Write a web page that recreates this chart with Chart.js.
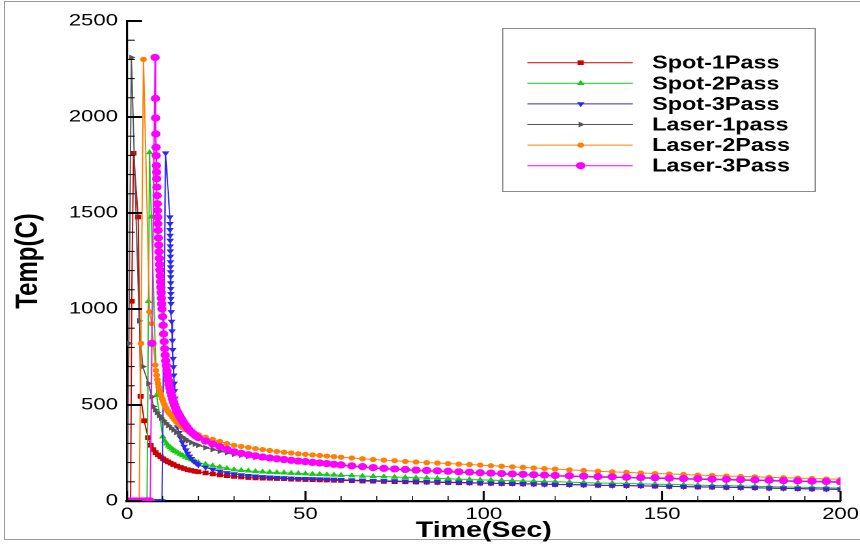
<!DOCTYPE html>
<html>
<head>
<meta charset="utf-8">
<title>Temp(C) vs Time(Sec)</title>
<script src="https://cdn.jsdelivr.net/npm/chart.js@4.4.1/dist/chart.umd.min.js"></script>
<style>
  html, body { margin: 0; padding: 0; background: #fff; overflow: hidden; }
  #frame { position: absolute; left: 4px; top: 1px; width: 880px; height: 539px; border: 1px solid #9a9a9a; box-sizing: border-box; }
  /* the figure is laid out narrow and stretched sideways, like the exported plot */
  #wrap { position: absolute; left: 0; top: 0; width: 662px; height: 545px; transform: scaleX(1.2991); transform-origin: 0 0; }
</style>
</head>
<body>
<div id="frame"></div>
<div id="wrap"><canvas id="chart"></canvas></div>
<script>
'use strict';

// heating spikes, sampled finely (time in s, temperature in C)
var spot1Time = [0, 0.5, 1.0, 1.3, 1.8, 3.1, 3.8, 4.8, 5.9, 6.6, 7.3, 8.0, 8.7, 9.4, 10.1, 10.8, 11.5, 12.2, 13.0, 14.0, 15.0, 16.0, 17.0, 18.0, 19.0];
var spot1Temp = [0, 0, 0, 1040, 1811, 1479, 545, 418, 330, 290, 268, 252, 240, 230, 220, 211, 204, 197, 190, 182, 175, 169, 163, 159, 155];

var spot2Time = [0, 1, 2, 3, 4, 5, 5.6, 6.0, 6.3, 6.8, 8.3, 10.0, 10.6, 11.1, 11.6, 12.1, 12.6, 13.1, 13.6, 14.2, 14.9, 15.6, 16.4, 17.2, 18.0, 19.0];
var spot2Temp = [0, 0, 0, 0, 0, 0, 0, 1040, 1815, 1480, 551, 335, 312, 298, 287, 279, 271, 264, 258, 251, 244, 237, 229, 222, 215, 207];

var spot3Time = [0, 1, 2, 3, 4, 5, 6, 7, 8, 8.6, 9.2, 9.8, 10.8,
  12.0, 12.02, 12.04, 12.06, 12.08, 12.1, 12.12, 12.14, 12.16, 12.18, 12.2, 12.22, 12.24, 12.26, 12.28, 12.3, 12.32,
  12.4, 12.5, 12.6, 12.7, 12.8, 12.9, 13.0, 13.1, 13.2, 13.3, 13.4, 13.5,
  13.65, 13.85, 14.15, 14.55, 15.0, 15.5, 16.0, 16.5, 17.0, 17.5, 18.0, 18.7, 19.4];
var spot3Temp = [0, 0, 0, 0, 0, 0, 0, 0, 0, 0, 0, 0, 1812,
  1479, 1444, 1413, 1383, 1357, 1328, 1302, 1274, 1245, 1219, 1193, 1167, 1136, 1106, 1080, 1054, 1028,
  985, 935, 885, 836, 788, 742, 698, 655, 613, 573, 535, 498,
  455, 418, 385, 356, 330, 306, 284, 265, 248, 233, 220, 206, 196];

var laser1Time = [0, 0.5, 1.2, 3.4, 4.4, 6.0, 6.9, 7.4, 7.9, 8.4, 9.0, 9.6, 10.2, 10.9, 11.6, 12.3, 13.0, 13.8, 14.6, 15.4, 16.2, 17.0, 18.0, 19.0];
var laser1Temp = [0, 821, 2310, 938, 700, 612, 543, 492, 475, 460, 445, 432, 420, 406, 393, 381, 370, 357, 345, 334, 324, 314, 304, 296];

var laser2Time = [0, 1, 2, 3, 3.4, 3.9, 4.6, 6.3, 6.9, 7.9, 8.1, 8.3, 8.5, 8.7, 8.9, 9.1, 9.35, 9.6, 9.85, 10.1,
  10.4, 10.7, 11.0, 11.4, 11.8, 12.2, 12.7, 13.2, 13.8, 14.4, 15.0, 15.7, 16.4, 17.2, 18.0, 19.0];
var laser2Temp = [0, 0, 0, 0, 0, 821, 2300, 985, 924, 708, 680, 655, 632, 612, 594, 578, 561, 546, 532, 519,
  505, 492, 481, 468, 458, 450, 437, 425, 412, 400, 390, 380, 371, 363, 357, 350];

var laser3Time = [0, 0.5, 1, 1.5, 2, 2.5, 3, 3.5, 4, 4.5, 5, 5.5, 6, 6.5, 6.95, 7.85,
  7.95, 8.0, 8.05, 8.13, 8.17, 8.22, 8.27, 8.3, 8.36, 8.42, 8.47, 8.53, 8.58, 8.64, 8.7,
  8.78, 8.86, 8.95, 9.03, 9.12, 9.2, 9.28, 9.37, 9.45, 9.54, 9.62, 9.7, 9.79,
  9.95, 10.1, 10.25, 10.4, 10.55, 10.7, 10.85, 11.0, 11.2, 11.4, 11.6, 11.8, 12.0,
  12.25, 12.5, 12.75, 13.0, 13.3, 13.6, 13.9, 14.2, 14.6, 15.0, 15.4, 15.8, 16.3, 16.8, 17.3, 17.9, 18.5, 19.2];
var laser3Temp = [0, 0, 0, 0, 0, 0, 0, 0, 0, 0, 0, 0, 0, 0, 821, 2310,
  2097, 1995, 1912, 1842, 1799, 1747, 1713, 1678, 1635, 1591, 1548, 1513, 1478, 1444, 1409,
  1370, 1333, 1298, 1264, 1232, 1203, 1172, 1142, 1113, 1085, 1056, 1027, 1000,
  960, 915, 870, 830, 793, 760, 730, 705, 678, 652, 628, 606, 587,
  567, 549, 532, 516, 500, 485, 471, 460, 447, 434, 422, 410, 397, 385, 373, 361, 351, 340];

// cooling tails, all on the same time steps
var tailTime = [20, 22, 24, 26, 28, 30, 32, 34, 36, 38, 40, 42, 44, 46, 48, 50, 52, 54, 56, 58, 60,
  63, 66, 69, 72, 75, 78, 81, 84, 87, 90, 93, 96, 99, 102, 105, 108, 111, 114, 117, 120,
  124, 128, 132, 136, 140, 144, 148, 152, 156, 160, 164, 168, 172, 176, 180, 184, 188, 192, 196, 200];

var spot1Tail = [152, 146, 141, 136, 132, 128, 125, 122, 120, 119, 118, 117, 116, 114, 113, 112, 111, 110, 109, 108, 107,
  106, 104, 103, 102, 101, 100, 99, 98, 97, 96, 95, 94, 93, 92, 91, 90, 89, 88, 87, 86,
  85, 84, 82, 81, 80, 79, 77, 76, 75, 73, 72, 71, 70, 69, 67, 66, 64, 63, 62, 60];
var spot2Tail = [200, 191, 184, 177, 170, 163, 160, 157, 154, 152, 150, 148, 147, 145, 144, 142, 140, 139, 137, 136, 134,
  132, 130, 128, 127, 125, 123, 121, 120, 118, 116, 114, 112, 110, 109, 107, 106, 104, 103, 101, 100,
  98, 96, 94, 93, 91, 89, 88, 86, 85, 83, 81, 80, 78, 77, 75, 73, 72, 70, 69, 67];
var spot3Tail = [188, 175, 164, 155, 147, 141, 136, 132, 129, 126, 124, 122, 120, 118, 117, 116, 115, 114, 113, 112, 111,
  109, 108, 106, 105, 104, 103, 102, 100, 99, 98, 97, 96, 94, 93, 92, 91, 90, 89, 87, 86,
  85, 84, 82, 81, 80, 79, 78, 76, 75, 74, 73, 72, 70, 69, 67, 66, 65, 63, 62, 61];
var laser1Tail = [290, 278, 268, 259, 251, 243, 238, 233, 228, 224, 220, 216, 212, 208, 204, 201, 197, 194, 191, 188, 185,
  180, 175, 171, 167, 164, 161, 158, 156, 154, 151, 149, 147, 144, 142, 140, 138, 136, 134, 132, 130,
  128, 126, 124, 123, 121, 119, 118, 116, 114, 113, 111, 110, 108, 107, 105, 103, 102, 100, 99, 97];
var laser2Tail = [345, 332, 321, 310, 299, 290, 284, 279, 273, 268, 263, 258, 254, 250, 246, 243, 240, 237, 234, 231, 228,
  224, 220, 216, 213, 210, 206, 203, 200, 198, 195, 192, 190, 187, 184, 181, 178, 175, 172, 169, 166,
  162, 159, 155, 152, 149, 146, 143, 141, 138, 135, 133, 130, 128, 126, 123, 121, 119, 117, 115, 113];
var laser3Tail = [330, 312, 297, 283, 269, 256, 248, 241, 235, 229, 224, 220, 216, 212, 208, 205, 201, 198, 195, 191, 188,
  183, 179, 174, 170, 167, 164, 161, 159, 157, 155, 152, 150, 147, 145, 143, 141, 139, 137, 135, 133,
  131, 129, 127, 126, 124, 122, 121, 119, 117, 116, 114, 113, 111, 110, 108, 106, 105, 103, 102, 100];

var seriesNames = ['Spot-1Pass', 'Spot-2Pass', 'Spot-3Pass', 'Laser-1pass', 'Laser-2Pass', 'Laser-3Pass'];
var seriesColors = ['#cc0000', '#14cc14', '#2a2aee', '#555555', '#ff8000', '#ff00ff'];

var font = '"Liberation Sans", Arial, Helvetica, sans-serif';

function toPoints(times, temps, tail) {
  var pts = [];
  for (var i = 0; i < times.length; i++) {
    pts.push({ x: times[i], y: temps[i] });
  }
  for (var j = 0; j < tailTime.length; j++) {
    pts.push({ x: tailTime[j], y: tail[j] });
  }
  return pts;
}

var curves = [
  toPoints(spot1Time, spot1Temp, spot1Tail),
  toPoints(spot2Time, spot2Temp, spot2Tail),
  toPoints(spot3Time, spot3Temp, spot3Tail),
  toPoints(laser1Time, laser1Temp, laser1Tail),
  toPoints(laser2Time, laser2Temp, laser2Tail),
  toPoints(laser3Time, laser3Temp, laser3Tail)
];

// symbol for each run
var markers = [
  { style: 'rect', radius: 3.3, rotation: 0 },
  { style: 'triangle', radius: 3.4, rotation: 0 },
  { style: 'triangle', radius: 3.4, rotation: 180 },
  { style: 'triangle', radius: 3.3, rotation: 90 },
  { style: 'circle', radius: 2.6, rotation: 0 },
  { style: 'circle', radius: 3.6, rotation: 0 }
];

var datasets = [];
for (var k = 0; k < seriesNames.length; k++) {
  datasets.push({
    label: seriesNames[k],
    data: curves[k],
    borderColor: seriesColors[k],
    backgroundColor: seriesColors[k],
    borderWidth: 1,
    pointStyle: markers[k].style,
    pointRadius: markers[k].radius,
    pointRotation: markers[k].rotation,
    pointBackgroundColor: seriesColors[k],
    pointBorderWidth: 0,
    tension: 0,
    order: seriesNames.length - 1 - k   // later runs drawn on top
  });
}

// tick marks pointing into the plot, majors and minors
var innerTicks = {
  id: 'innerTicks',
  afterDatasetsDraw: function (chart) {
    var c = chart.ctx;
    var xs = chart.scales.x;
    var ys = chart.scales.y;
    var area = chart.chartArea;
    c.save();
    c.strokeStyle = '#000';
    for (var t = 0; t <= 200; t += 10) {
      var px = xs.getPixelForValue(t);
      var majorX = t % 50 === 0;
      c.lineWidth = majorX ? 1.6 : 0.8;
      c.beginPath();
      c.moveTo(px, area.bottom);
      c.lineTo(px, area.bottom - (majorX ? 10 : 5));
      c.stroke();
    }
    for (var v = 0; v <= 2500; v += 100) {
      var py = ys.getPixelForValue(v);
      var majorY = v % 500 === 0;
      c.lineWidth = majorY ? 2 : 1;
      c.beginPath();
      c.moveTo(area.left, py);
      c.lineTo(area.left + (majorY ? 11.5 : 6), py);
      c.stroke();
    }
    c.restore();
  }
};

function drawSymbol(c, ds, x, y) {
  c.fillStyle = ds.pointBackgroundColor;
  if (Chart.helpers && Chart.helpers.drawPoint) {
    Chart.helpers.drawPoint(c, { pointStyle: ds.pointStyle, rotation: ds.pointRotation, radius: ds.pointRadius, borderWidth: 0 }, x, y);
  } else {
    c.beginPath();
    c.arc(x, y, ds.pointRadius, 0, Math.PI * 2);
    c.fill();
  }
}

// boxed legend: line sample with symbol, bold name on the right
var legendBox = {
  id: 'legendBox',
  afterDraw: function (chart) {
    var c = chart.ctx;
    c.save();
    c.strokeStyle = '#8c8c8c';
    c.lineWidth = 1;
    c.strokeRect(387, 28.5, 240.5, 163);
    chart.data.datasets.forEach(function (ds, i) {
      var y = 62.7 + i * 20.6;
      c.strokeStyle = ds.borderColor;
      c.lineWidth = 1;
      c.beginPath();
      c.moveTo(406, y);
      c.lineTo(487, y);
      c.stroke();
      drawSymbol(c, ds, 447, y);
      c.fillStyle = '#000';
      c.font = 'bold 18px ' + font;
      c.textAlign = 'left';
      c.textBaseline = 'middle';
      c.fillText(ds.label, 502, y + 1);
    });
    c.restore();
  }
};

function plainLabel(value) {
  return String(value);
}

var ctx = document.getElementById('chart').getContext('2d');

new Chart(ctx, {
  type: 'line',
  data: { datasets: datasets },
  options: {
    responsive: true,
    maintainAspectRatio: false,
    animation: false,
    devicePixelRatio: 2,
    layout: { padding: { top: 21, right: 15, bottom: 0, left: 0 } },
    plugins: {
      legend: { display: false },
      tooltip: { enabled: false }
    },
    scales: {
      x: {
        type: 'linear',
        min: 0,
        max: 200,
        grid: { display: false, drawTicks: false },
        border: { display: true, color: '#000', width: 2.3 },
        ticks: { stepSize: 50, color: '#000', padding: 3, maxRotation: 0, callback: plainLabel, font: { family: font, size: 17 } },
        title: { display: true, text: 'Time(Sec)', color: '#000', padding: { top: 0, bottom: 1 }, font: { family: font, size: 22, weight: 'bold' } },
        afterFit: function (scale) {
          scale.height = 44;
          scale.paddingLeft = 0;
          scale.paddingRight = 0;
        }
      },
      y: {
        type: 'linear',
        min: 0,
        max: 2500,
        grid: { display: false, drawTicks: false },
        border: { display: true, color: '#000', width: 1.6 },
        ticks: { stepSize: 500, color: '#000', padding: 7, callback: plainLabel, font: { family: font, size: 17 } },
        title: { display: true, text: 'Temp(C)', color: '#000', padding: { top: 7.5, bottom: 0 }, font: { family: font, size: 24, weight: 'bold' } },
        afterFit: function (scale) {
          scale.width = 97.8;
          scale.paddingTop = 0;
          scale.paddingBottom = 0;
        }
      }
    }
  },
  plugins: [innerTicks, legendBox]
});
</script>
</body>
</html>
